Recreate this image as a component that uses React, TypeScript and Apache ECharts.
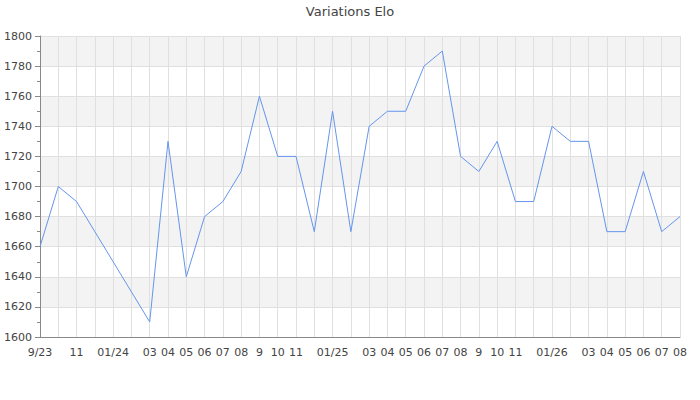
import { useEffect, useRef } from 'react';
import * as echarts from 'echarts';

const months = [
  '9/23', '', '11', '', '01/24', '', '03', '04', '05', '06', '07', '08',
  '9', '10', '11', '', '01/25', '', '03', '04', '05', '06', '07', '08',
  '9', '10', '11', '', '01/26', '', '03', '04', '05', '06', '07', '08',
];

const elo = [
  1660, 1700, 1690, 1670, 1650, 1630, 1610, 1730, 1640, 1680, 1690, 1710,
  1760, 1720, 1720, 1670, 1750, 1670, 1740, 1750, 1750, 1780, 1790, 1720,
  1710, 1730, 1690, 1690, 1740, 1730, 1730, 1670, 1670, 1710, 1670, 1680,
];

const FONT = 'DejaVu Sans';

export default function App() {
  const chartRef = useRef<HTMLDivElement>(null);

  useEffect(() => {
    if (!chartRef.current) return;
    const chart = echarts.init(chartRef.current, undefined, { renderer: 'svg' });

    chart.setOption({
      animation: false,
      title: {
        text: 'Variations Elo',
        left: 'center',
        top: 0,
        textStyle: { fontFamily: FONT, fontSize: 13, fontWeight: 'normal', color: '#444' },
      },
      grid: { left: 40, right: 20, top: 36, bottom: 63 },
      xAxis: {
        type: 'category',
        data: months,
        boundaryGap: false,
        axisLine: { lineStyle: { color: '#888' } },
        axisTick: { show: false },
        axisLabel: {
          interval: 0,
          fontFamily: FONT,
          fontSize: 11,
          color: '#444',
          margin: 10,
        },
        splitLine: { show: true, interval: 0, lineStyle: { color: '#e0e0e0' } },
      },
      yAxis: {
        type: 'value',
        min: 1600,
        max: 1800,
        interval: 20,
        axisLine: { show: true, lineStyle: { color: '#888' } },
        axisTick: { show: true, length: 5, lineStyle: { color: '#888' } },
        minorTick: { show: true, splitNumber: 2, length: 3, lineStyle: { color: '#888' } },
        axisLabel: {
          fontFamily: FONT,
          fontSize: 11,
          color: '#444',
          margin: 8,
          formatter: (v: number) => String(v),
        },
        splitLine: { show: true, lineStyle: { color: '#e0e0e0' } },
        splitArea: { show: true, areaStyle: { color: ['#ffffff', '#f3f3f3'] } },
      },
      series: [
        {
          type: 'line',
          data: elo,
          symbol: 'none',
          lineStyle: { color: '#6495ED', width: 1 },
          itemStyle: { color: '#6495ED' },
        },
      ],
    });

    return () => {
      chart.dispose();
    };
  }, []);

  return (
    <div
      ref={chartRef}
      style={{ position: 'absolute', left: 0, top: 0, width: 700, height: 400 }}
    />
  );
}
